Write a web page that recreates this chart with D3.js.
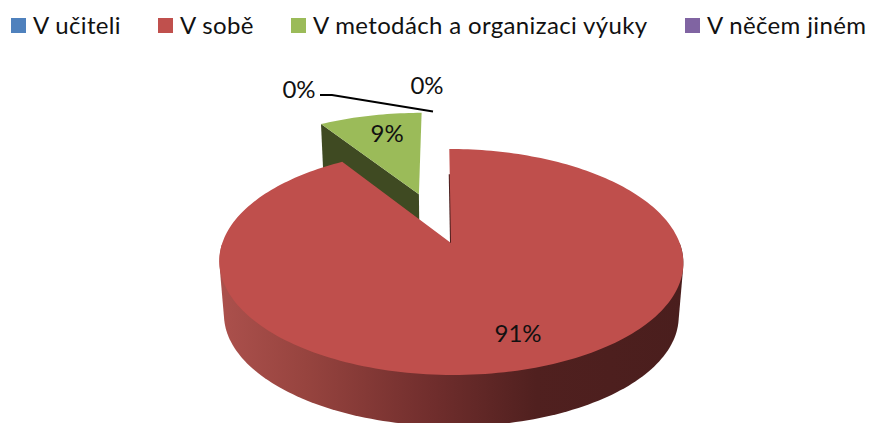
<!DOCTYPE html>
<html lang="cs">
<head>
<meta charset="utf-8">
<script src="https://cdn.jsdelivr.net/npm/d3@7"></script>
<style>
html,body{margin:0;padding:0;background:#fff}
svg{display:block}
text{font-family:Lato,"Open Sans",sans-serif;fill:#111}
</style>
</head>
<body>
<svg id="chart" width="871" height="423"></svg>
<script>
const categories = ["V učiteli", "V sobě", "V metodách a organizaci výuky", "V něčem jiném"];
const values = [0, 91, 9, 0];
const valueLabels = ["0%", "91%", "9%", "0%"];
const colors = ["#4f81bd", "#c0504d", "#9bbb59", "#8064a2"];

const W = 871, H = 423;
const svg = d3.select("#chart").attr("viewBox", [0, 0, W, H]);
const defs = svg.append("defs");

const grad = defs.append("linearGradient").attr("id", "wall")
  .attr("gradientUnits", "userSpaceOnUse").attr("x1", 222).attr("x2", 684).attr("y1", 0).attr("y2", 0);
[[0, "#ab504c"], [0.18, "#97443f"], [0.45, "#712e2d"], [0.68, "#50201f"], [1, "#4a1e1d"]]
  .forEach(([o, c]) => grad.append("stop").attr("offset", o).attr("stop-color", c));

// legend
const legendX = [11, 158, 291, 685];
const legend = svg.append("g").selectAll("g").data(categories).join("g")
  .attr("transform", (d, i) => `translate(${legendX[i]},0)`);
legend.append("rect").attr("y", 18).attr("width", 15).attr("height", 15).attr("fill", (d, i) => colors[i]);
legend.append("text").attr("x", 22).attr("y", 34).attr("font-size", 24).attr("letter-spacing", 0.35).text(d => d);

// pie angles, clockwise from 12 o'clock
const pie = d3.pie().value(d => d).sort(null);
const arcs = pie(values);

// perspective projection of the pie plane
const cx = 451, apexY = 243, kx = 228.7, ky = 109.8, persp = 0.168, shear = 2;
const depth = 54, baseScale = 0.98;
const project = (X, Y, low) => {
  const den = 1 + persp * Y, s = low ? baseScale : 1;
  return [cx + s * (kx * X - shear * Y) / den, apexY + (low ? depth : 0) - s * ky * Y / den];
};
const polar = (r, a, ox = 0, oy = 0, low = false) =>
  project(r * Math.sin(a) + ox, r * Math.cos(a) + oy, low);

const line = d3.line();
const arcAngles = (a0, a1, n) => d3.range(n + 1).map(i => a0 + (a1 - a0) * i / n);

const red = arcs[1], green = arcs[2];

// green slice, pulled out along its mid angle
const explode = 0.5;
const gMid = (green.startAngle + green.endAngle) / 2;
const gx = explode * Math.sin(gMid) - 0.008, gy = explode * Math.cos(gMid);
svg.append("path")
  .attr("d", line([
    polar(0, 0, gx, gy), polar(1, green.startAngle, gx, gy),
    polar(1, green.startAngle, gx, gy, true), polar(0, 0, gx, gy, true)
  ]) + "Z")
  .attr("fill", "#3f4a22");
svg.append("path")
  .attr("d", line([polar(0, 0, gx, gy), ...arcAngles(green.startAngle, green.endAngle, 24).map(a => polar(1, a, gx, gy))]) + "Z")
  .attr("fill", colors[2]);

// red slice: rim, cut edge and top face
const rim = arcAngles(red.startAngle, red.endAngle, 240).filter(a => Math.cos(a) < 0);
const rimHull = d3.polygonHull([...rim.map(a => polar(1, a)), ...rim.map(a => polar(1, a, 0, 0, true))]);
svg.append("path")
  .attr("d", line(rimHull) + "Z")
  .attr("fill", "url(#wall)");
svg.append("path")
  .attr("d", line([polar(0, 0), polar(0.7, red.startAngle)]))
  .attr("stroke", "#4a1e1d").attr("stroke-width", 2).attr("fill", "none");
svg.append("path")
  .attr("d", line([polar(0, 0), ...arcAngles(red.startAngle, red.endAngle, 240).map(a => polar(1, a))]) + "Z")
  .attr("fill", "#bf4f4c");

// data labels
const labelFont = 24;
const mid = d => (d.startAngle + d.endAngle) / 2;
const redP = polar(0.75, mid(red));
const greenP = polar(0.75, gMid, gx, gy);
const labelPos = [[427, 85], [redP[0] + 11, redP[1]], [greenP[0] + 6, greenP[1]], [299, 89]];
svg.append("g").selectAll("text").data(valueLabels).join("text")
  .attr("x", (d, i) => labelPos[i][0]).attr("y", (d, i) => labelPos[i][1])
  .attr("dy", "0.36em").attr("text-anchor", "middle").attr("font-size", labelFont)
  .text(d => d);

// leader line for the zero slices
svg.append("path")
  .attr("d", line([[320, 95], [332, 95], [433, 111.5]]))
  .attr("fill", "none").attr("stroke", "#000").attr("stroke-width", 2);
</script>
</body>
</html>
